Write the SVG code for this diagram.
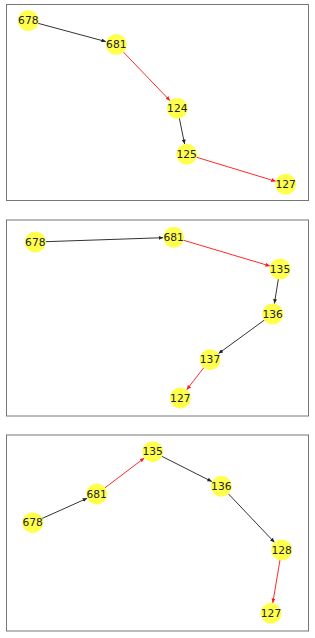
<svg xmlns="http://www.w3.org/2000/svg" width="315" height="638" viewBox="0 0 315 638">
<defs>
<marker id="ak" markerUnits="userSpaceOnUse" markerWidth="5" markerHeight="4" refX="4.5" refY="2" orient="auto"><path d="M0,0 L4.5,2 L0,4 z" fill="#222"/></marker>
<marker id="ar" markerUnits="userSpaceOnUse" markerWidth="5" markerHeight="4" refX="4.5" refY="2" orient="auto"><path d="M0,0 L4.5,2 L0,4 z" fill="#ff1a1a"/></marker>
</defs>
<style>
.frame{fill:#fff;stroke:#777;stroke-width:1}
.k{stroke:#333;stroke-width:1;fill:none;marker-end:url(#ak)}
.r{stroke:#ff2a2a;stroke-width:1;fill:none;marker-end:url(#ar)}
.n circle{fill:#ffff4d;}
.n text{font-family:"DejaVu Sans",sans-serif;font-size:10.7px;fill:#222;text-anchor:middle;dominant-baseline:central}
</style>
<rect width="315" height="638" fill="#fff"/>
<rect class="frame" x="6.5" y="4.5" width="302" height="196"/>
<rect class="frame" x="6.5" y="220" width="302" height="196"/>
<rect class="frame" x="6.5" y="435" width="302" height="196"/>
<g id="connectors">
<line class="k" x1="38" y1="23.3" x2="105.9" y2="41.6"/>
<line class="r" x1="122.9" y1="51.5" x2="170" y2="100.7"/>
<line class="k" x1="179.3" y1="118.1" x2="184.6" y2="144"/>
<line class="r" x1="196.3" y1="157.2" x2="275.7" y2="181.3"/>
<line class="k" x1="45.3" y1="241.7" x2="163.2" y2="237.7"/>
<line class="r" x1="183.3" y1="240.2" x2="269.9" y2="266"/>
<line class="k" x1="278.4" y1="278.9" x2="274.4" y2="303.6"/>
<line class="k" x1="264.6" y1="319.9" x2="218.5" y2="353.5"/>
<line class="r" x1="203.9" y1="367.6" x2="186.7" y2="389.7"/>
<line class="k" x1="41.8" y1="518.6" x2="87.1" y2="498.3"/>
<line class="r" x1="104.7" y1="488" x2="144.3" y2="458"/>
<line class="k" x1="161.6" y1="456.2" x2="211.9" y2="481.6"/>
<line class="k" x1="228.2" y1="493.6" x2="274.5" y2="542.4"/>
<line class="r" x1="280" y1="559.9" x2="272.8" y2="602.9"/>
</g>
<g id="p1-678" class="n"><circle cx="28.3" cy="20.7" r="10.5"/><text x="28.3" y="20.7">678</text></g>
<g id="p1-681" class="n"><circle cx="116.3" cy="44.5" r="10.5"/><text x="116.3" y="44.5">681</text></g>
<g id="p1-124" class="n"><circle cx="177.3" cy="108.3" r="10.5"/><text x="177.3" y="108.3">124</text></g>
<g id="p1-125" class="n"><circle cx="186.7" cy="154.3" r="10.5"/><text x="186.7" y="154.3">125</text></g>
<g id="p1-127" class="n"><circle cx="285.7" cy="184.3" r="10.5"/><text x="285.7" y="184.3">127</text></g>
<g id="p2-678" class="n"><circle cx="35.3" cy="242" r="10.5"/><text x="35.3" y="242">678</text></g>
<g id="p2-681" class="n"><circle cx="173.7" cy="237.3" r="10.5"/><text x="173.7" y="237.3">681</text></g>
<g id="p2-135" class="n"><circle cx="280" cy="269" r="10.5"/><text x="280" y="269">135</text></g>
<g id="p2-136" class="n"><circle cx="272.7" cy="314" r="10.5"/><text x="272.7" y="314">136</text></g>
<g id="p2-137" class="n"><circle cx="210" cy="359.7" r="10.5"/><text x="210" y="359.7">137</text></g>
<g id="p2-127" class="n"><circle cx="180.3" cy="398" r="10.5"/><text x="180.3" y="398">127</text></g>
<g id="p3-135" class="n"><circle cx="152.7" cy="451.7" r="10.5"/><text x="152.7" y="451.7">135</text></g>
<g id="p3-681" class="n"><circle cx="96.7" cy="494" r="10.5"/><text x="96.7" y="494">681</text></g>
<g id="p3-678" class="n"><circle cx="32.7" cy="522.7" r="10.5"/><text x="32.7" y="522.7">678</text></g>
<g id="p3-136" class="n"><circle cx="221.3" cy="486.3" r="10.5"/><text x="221.3" y="486.3">136</text></g>
<g id="p3-128" class="n"><circle cx="281.7" cy="550" r="10.5"/><text x="281.7" y="550">128</text></g>
<g id="p3-127" class="n"><circle cx="271" cy="613.3" r="10.5"/><text x="271" y="613.3">127</text></g>
</svg>
